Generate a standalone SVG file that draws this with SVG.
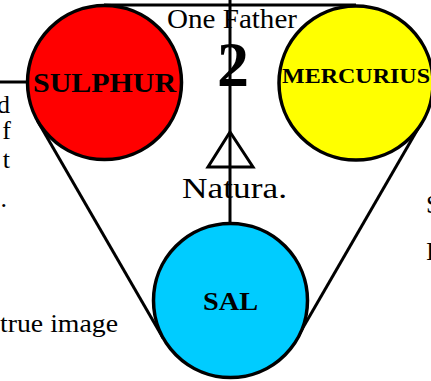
<svg xmlns="http://www.w3.org/2000/svg" width="431" height="381" viewBox="0 0 431 381">
<style>
.ln{stroke:#000;stroke-width:3;fill:none}
.node{stroke:#000;stroke-width:3.5}
.t{font-family:"Liberation Serif","Times New Roman",serif;fill:#000}
.b{font-weight:bold}
</style>
<rect width="431" height="381" fill="#fff"/>
<g id="texts">
<text class="t" x="10" y="113" font-size="26" text-anchor="end">d</text>
<text class="t" x="11" y="139" font-size="26" text-anchor="end">f</text>
<text class="t" x="10" y="168" font-size="26" text-anchor="end">t</text>
<text class="t" x="7" y="207" font-size="26" text-anchor="end">.</text>
<text class="t" x="426" y="213" font-size="26">S</text>
<text class="t" x="426" y="260" font-size="26">I</text>
<text class="t" x="0" y="332" font-size="25" textLength="118" lengthAdjust="spacingAndGlyphs">true image</text>
<text class="t" x="167" y="28" font-size="27" textLength="130" lengthAdjust="spacingAndGlyphs">One Father</text>
<text class="t" x="182" y="198" font-size="29" textLength="105" lengthAdjust="spacingAndGlyphs">Natura.</text>
<text class="t b" x="233" y="86" font-size="64" text-anchor="middle">2</text>
</g>
<g id="connectors">
<line class="ln" x1="0" y1="82" x2="28" y2="82"/>
<line class="ln" x1="104" y1="5" x2="356" y2="5"/>
<line class="ln" x1="37.3" y1="120.5" x2="163.3" y2="338.5"/>
<line class="ln" x1="422.7" y1="120.5" x2="296.7" y2="338.5"/>
<line class="ln" x1="230" y1="0" x2="230" y2="224" stroke-width="4"/>
<polygon class="ln" points="230,132 208,167 253,167"/>
</g>
<g id="sulphur">
<circle class="node" cx="104.5" cy="82.5" r="77" fill="#ff0000"/>
<text class="t b" x="104.5" y="92" font-size="27" text-anchor="middle" textLength="143" lengthAdjust="spacingAndGlyphs">SULPHUR</text>
</g>
<g id="mercurius">
<circle class="node" cx="356" cy="83" r="77" fill="#ffff00"/>
<text class="t b" x="356" y="83" font-size="22" text-anchor="middle" textLength="148" lengthAdjust="spacingAndGlyphs">MERCURIUS</text>
</g>
<g id="sal">
<circle class="node" cx="230.5" cy="300.5" r="77" fill="#00ccff"/>
<text class="t b" x="230.5" y="310" font-size="26" text-anchor="middle" textLength="55" lengthAdjust="spacingAndGlyphs">SAL</text>
</g>
</svg>
